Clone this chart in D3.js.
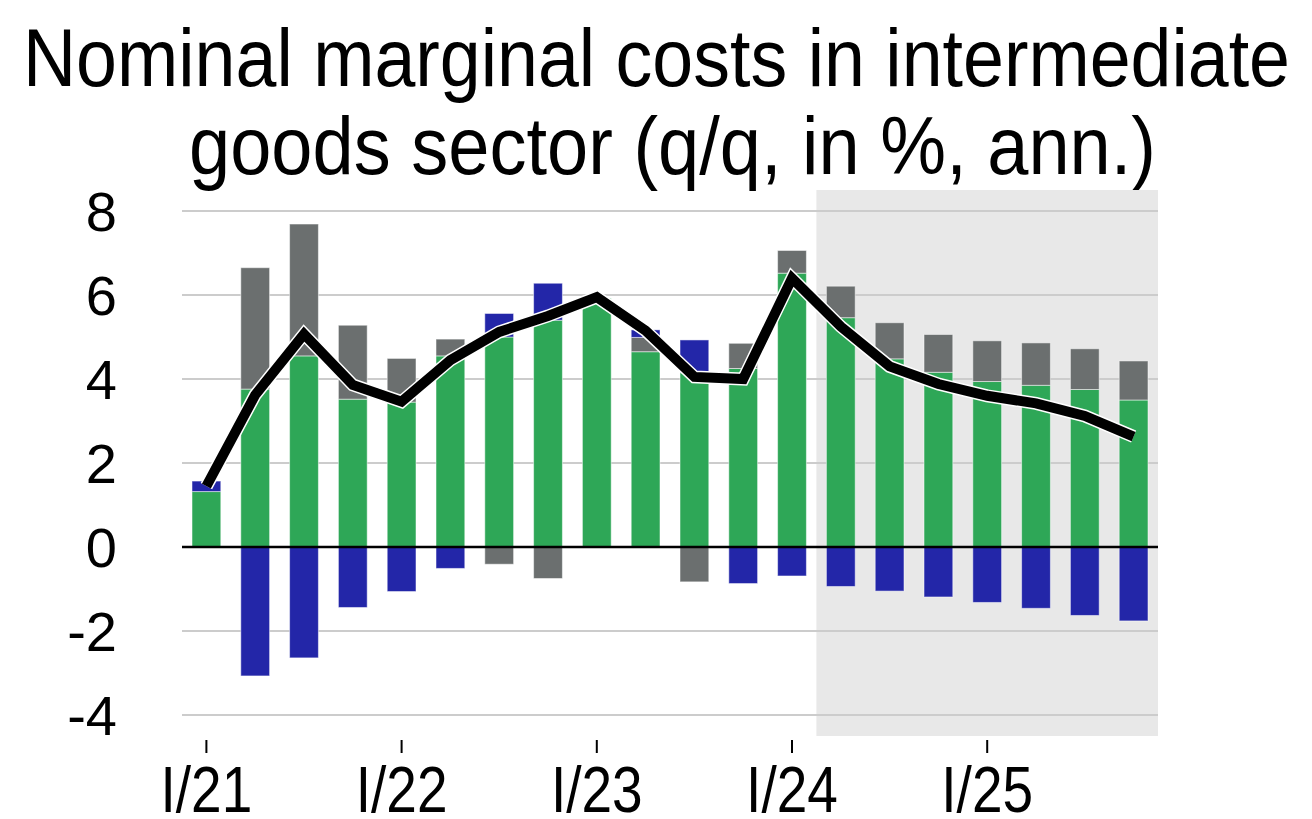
<!DOCTYPE html>
<html>
<head>
<meta charset="utf-8">
<script src="https://cdn.jsdelivr.net/npm/d3@7"></script>
<style>
  html, body { margin: 0; padding: 0; background: #fff; }
  svg { display: block; }
</style>
</head>
<body>
<svg id="chart" width="1312" height="819"></svg>
<script>
// quarters I/21 .. IV/25
const quarters = ["I/21","II/21","III/21","IV/21","I/22","II/22","III/22","IV/22",
  "I/23","II/23","III/23","IV/23","I/24","II/24","III/24","IV/24",
  "I/25","II/25","III/25","IV/25"];
const tickLabels = ["I/21","I/22","I/23","I/24","I/25"];
const yTicks = [-4, -2, 0, 2, 4, 6, 8];

// contributions (pp)
const green = [1.32,3.76,4.55,3.52,3.45,4.55,5.0,5.4,5.92,4.65,4.15,4.25,6.52,5.46,4.48,4.16,3.94,3.85,3.75,3.5];
const gray  = [0,2.89,3.14,1.76,1.04,0.4,-0.41,-0.75,0,0.34,-0.83,0.6,0.54,0.75,0.86,0.9,0.97,1.01,0.97,0.93];
const blue  = [0.25,-3.07,-2.64,-1.44,-1.06,-0.51,0.56,0.88,0,0.18,0.78,-0.87,-0.69,-0.94,-1.05,-1.19,-1.32,-1.46,-1.63,-1.76];
// total, black line
const total = [1.45,3.62,5.07,3.86,3.46,4.45,5.12,5.5,5.95,5.15,4.05,4.0,6.4,5.25,4.3,3.88,3.6,3.42,3.12,2.63];
// forecast starts here
const forecastFrom = "II/24";

const colors = { green: "#2ea757", gray: "#6b6f6f", blue: "#2326a8" };

const svg = d3.select("#chart");
const left = 182, right = 1158;

const x = d3.scaleBand().domain(quarters).range([left, right]).paddingInner(0.41).paddingOuter(0.205);
const y = d3.scaleLinear().domain([-4.5, 8.5]).range([736, 190]);
const step = x.step();

// title (condensed look: squeeze Liberation Sans to the reference widths)
const title = svg.append("text")
  .style("font-family", "'Liberation Sans Narrow', 'Arial Narrow', 'Liberation Sans', sans-serif")
  .style("font-size", "82px")
  .attr("fill", "#000");
title.append("tspan").attr("x", 23).attr("y", 86)
  .attr("textLength", 1267).attr("lengthAdjust", "spacingAndGlyphs")
  .text("Nominal marginal costs in intermediate");
title.append("tspan").attr("x", 189).attr("y", 174)
  .attr("textLength", 967).attr("lengthAdjust", "spacingAndGlyphs")
  .text("goods sector (q/q, in %, ann.)");

// forecast shade
const fx = x(forecastFrom) - (step - x.bandwidth()) / 2;
svg.append("rect")
  .attr("x", fx).attr("y", y(8.5))
  .attr("width", right - fx).attr("height", y(-4.5) - y(8.5))
  .attr("fill", "#e8e8e8");

// gridlines
svg.append("g").selectAll("line")
  .data(yTicks.filter(d => d !== 0))
  .join("line")
  .attr("x1", left).attr("x2", right)
  .attr("y1", d => y(d)).attr("y2", d => y(d))
  .attr("stroke", "#cccccc").attr("stroke-width", 2);

// y labels
svg.append("g").selectAll("text")
  .data(yTicks)
  .join("text")
  .attr("x", 117).attr("y", d => y(d))
  .attr("dy", "0.36em")
  .attr("text-anchor", "end")
  .style("font-family", "'Liberation Sans', Arial, sans-serif")
  .style("font-size", "56px")
  .text(d => d);

// stack the bars: positives go up, negatives go down
const segs = [];
quarters.forEach((q, i) => {
  let up = 0, down = 0;
  [["green", green[i]], ["gray", gray[i]], ["blue", blue[i]]].forEach(([k, v]) => {
    if (v > 0) { segs.push({ q, k, y0: up, y1: up + v }); up += v; }
    else if (v < 0) { segs.push({ q, k, y0: down + v, y1: down }); down += v; }
  });
});

svg.append("g").selectAll("rect")
  .data(segs)
  .join("rect")
  .attr("x", d => x(d.q))
  .attr("width", x.bandwidth())
  .attr("y", d => y(d.y1))
  .attr("height", d => y(d.y0) - y(d.y1))
  .attr("fill", d => colors[d.k])
  .attr("stroke", "rgba(255,255,255,0.5)")
  .attr("stroke-width", 1);

// zero line
svg.append("line")
  .attr("x1", left).attr("x2", right)
  .attr("y1", y(0)).attr("y2", y(0))
  .attr("stroke", "#000").attr("stroke-width", 2.5);

// total line with white halo
const line = d3.line()
  .x((d, i) => x(quarters[i]) + x.bandwidth() / 2)
  .y(d => y(d));

svg.append("path").datum(total)
  .attr("d", line)
  .attr("fill", "none").attr("stroke", "#fff")
  .attr("stroke-width", 13).attr("stroke-linejoin", "miter");
svg.append("path").datum(total)
  .attr("d", line)
  .attr("fill", "none").attr("stroke", "#000")
  .attr("stroke-width", 10).attr("stroke-linejoin", "miter");

// x ticks + labels
const xt = svg.append("g").selectAll("g")
  .data(tickLabels)
  .join("g")
  .attr("transform", d => `translate(${x(d) + x.bandwidth() / 2},0)`);
xt.append("line")
  .attr("y1", 740).attr("y2", 753)
  .attr("stroke", "#000").attr("stroke-width", 2);
xt.append("text")
  .attr("y", 812)
  .attr("text-anchor", "middle")
  .attr("transform", "scale(0.86,1)")
  .style("font-family", "'Liberation Sans', Arial, sans-serif")
  .style("font-size", "64px")
  .text(d => d);
</script>
</body>
</html>
